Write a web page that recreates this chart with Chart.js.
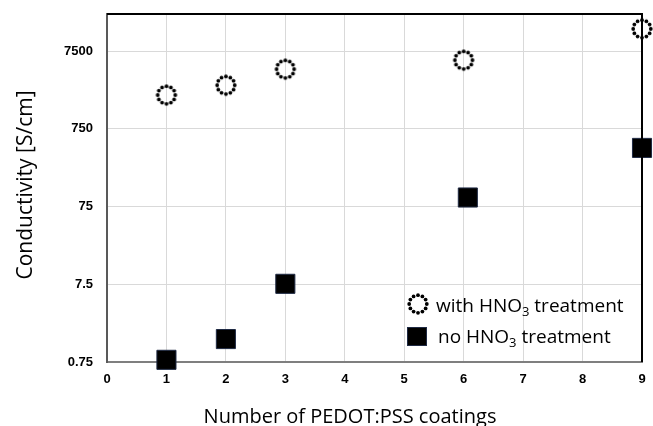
<!DOCTYPE html>
<html>
<head>
<meta charset="utf-8">
<script src="https://cdn.jsdelivr.net/npm/chart.js@4"></script>
<style>
  html, body { margin: 0; padding: 0; background: #fff; overflow: hidden; }
  #wrap { width: 653px; height: 426px; position: relative; }
  canvas { display: block; }
</style>
</head>
<body>
<div id="wrap"><canvas id="chart"></canvas></div>
<script>
// data
const coatings = [1, 2, 3, 6, 9];
const coatingsNoAcid = [1, 2, 3, 6.07, 9];
const withHNO3 = [2040, 2730, 4390, 5730, 14500];
const noHNO3 = [0.8, 1.48, 7.6, 98, 426];
const yTicks = [0.75, 7.5, 75, 750, 7500];
const xTicks = [0, 1, 2, 3, 4, 5, 6, 7, 8, 9];

const titleFont = '"Open Sans", sans-serif';
const tickFont = { family: '"Liberation Sans", Arial, sans-serif', size: 13, weight: 'bold' };

// dotted circle marker, Chart.js points can't be dashed
function dottedCircle(r) {
    const size = Math.ceil(r * 2 + 6);
    const c = document.createElement('canvas');
    c.width = size; c.height = size;
    const g = c.getContext('2d');
    g.fillStyle = '#000';
    const n = 12;
    for (let i = 0; i < n; i++) {
        const t = i / n * Math.PI * 2;
        g.beginPath();
        g.arc(size / 2 + r * Math.cos(t), size / 2 + r * Math.sin(t), 1.9, 0, Math.PI * 2);
        g.fill();
    }
    return c;
}
const circleImg = dottedCircle(8.8);

const framePlugin = {
    id: 'frame',
    afterDatasetsDraw(chart) {
        const { ctx, chartArea: a } = chart;
        ctx.save();
        ctx.strokeStyle = '#000';
        ctx.lineWidth = 2;
        ctx.beginPath();
        ctx.moveTo(a.left, a.top);
        ctx.lineTo(a.right, a.top);
        ctx.lineTo(a.right, a.bottom);
        ctx.stroke();
        ctx.restore();
    },
    afterDraw(chart) {
        const { ctx } = chart;
        ctx.save();
        ctx.fillStyle = '#000';
        ctx.textBaseline = 'alphabetic';

        // axis titles
        ctx.font = '20px ' + titleFont;
        ctx.textAlign = 'center';
        ctx.fillText('Number of PEDOT:PSS coatings', 350, 423);
        ctx.save();
        ctx.translate(32, 185);
        ctx.rotate(-Math.PI / 2);
        ctx.font = '21px ' + titleFont;
        ctx.fillText('Conductivity [S/cm]', 0, 0);
        ctx.restore();

        // legend inside plot
        ctx.textAlign = 'left';
        ctx.drawImage(circleImg, 418 - circleImg.width / 2, 304 - circleImg.height / 2);
        ctx.fillStyle = '#000';
        ctx.strokeStyle = '#1f2a44';
        ctx.lineWidth = 1;
        ctx.fillRect(407, 327, 20, 19);
        ctx.strokeRect(407.5, 327.5, 19, 18);
        const rows = [['with HNO', ' treatment', 312], ['no HNO', ' treatment', 343]];
        const x0 = [436, 438];
        rows.forEach((r, i) => {
            let x = x0[i];
            ctx.font = '19px ' + titleFont;
            ctx.fillText(r[0], x, r[2]);
            x += ctx.measureText(r[0]).width;
            ctx.font = '13px ' + titleFont;
            ctx.fillText('3', x, r[2] + 4);
            x += ctx.measureText('3').width;
            ctx.font = '19px ' + titleFont;
            ctx.fillText(r[1], x, r[2]);
        });
        ctx.restore();
    }
};

new Chart(document.getElementById('chart'), {
    type: 'scatter',
    data: {
        datasets: [{
            label: 'with HNO3 treatment',
            data: coatings.map((x, i) => ({ x: x, y: withHNO3[i] })),
            pointStyle: circleImg,
            pointRadius: 10,
            pointHoverRadius: 10
        }, {
            label: 'no HNO3 treatment',
            data: coatingsNoAcid.map((x, i) => ({ x: x, y: noHNO3[i] })),
            pointStyle: 'rect',
            pointRadius: 13.5,
            pointHoverRadius: 13.5,
            backgroundColor: '#000',
            borderColor: '#1f2a44',
            borderWidth: 1
        }]
    },
    options: {
        responsive: true,
        maintainAspectRatio: false,
        animation: false,
        clip: false,
        layout: { autoPadding: false, padding: { top: 14, right: 11, left: 0, bottom: 0 } },
        plugins: {
            legend: { display: false },
            tooltip: { enabled: false }
        },
        scales: {
            x: {
                type: 'linear',
                min: 0,
                max: 9,
                afterBuildTicks: s => { s.ticks = xTicks.map(v => ({ value: v })); },
                afterFit: s => { s.height = 64; s.paddingLeft = 0; s.paddingRight = 0; },
                grid: { color: '#d9d9d9', lineWidth: 1, drawTicks: false },
                border: { color: '#7f7f7f', width: 2 },
                ticks: { padding: 10, color: '#000', font: tickFont }
            },
            y: {
                type: 'logarithmic',
                min: 0.75,
                max: 22500,
                afterBuildTicks: s => { s.ticks = yTicks.map(v => ({ value: v })); },
                afterFit: s => { s.width = 107; s.paddingTop = 0; s.paddingBottom = 0; },
                grid: { color: '#d9d9d9', lineWidth: 1, drawTicks: false },
                border: { color: '#595959', width: 2 },
                ticks: {
                    padding: 14,
                    color: '#000',
                    font: tickFont,
                    callback: v => String(v)
                }
            }
        }
    },
    plugins: [framePlugin]
});
</script>
</body>
</html>
